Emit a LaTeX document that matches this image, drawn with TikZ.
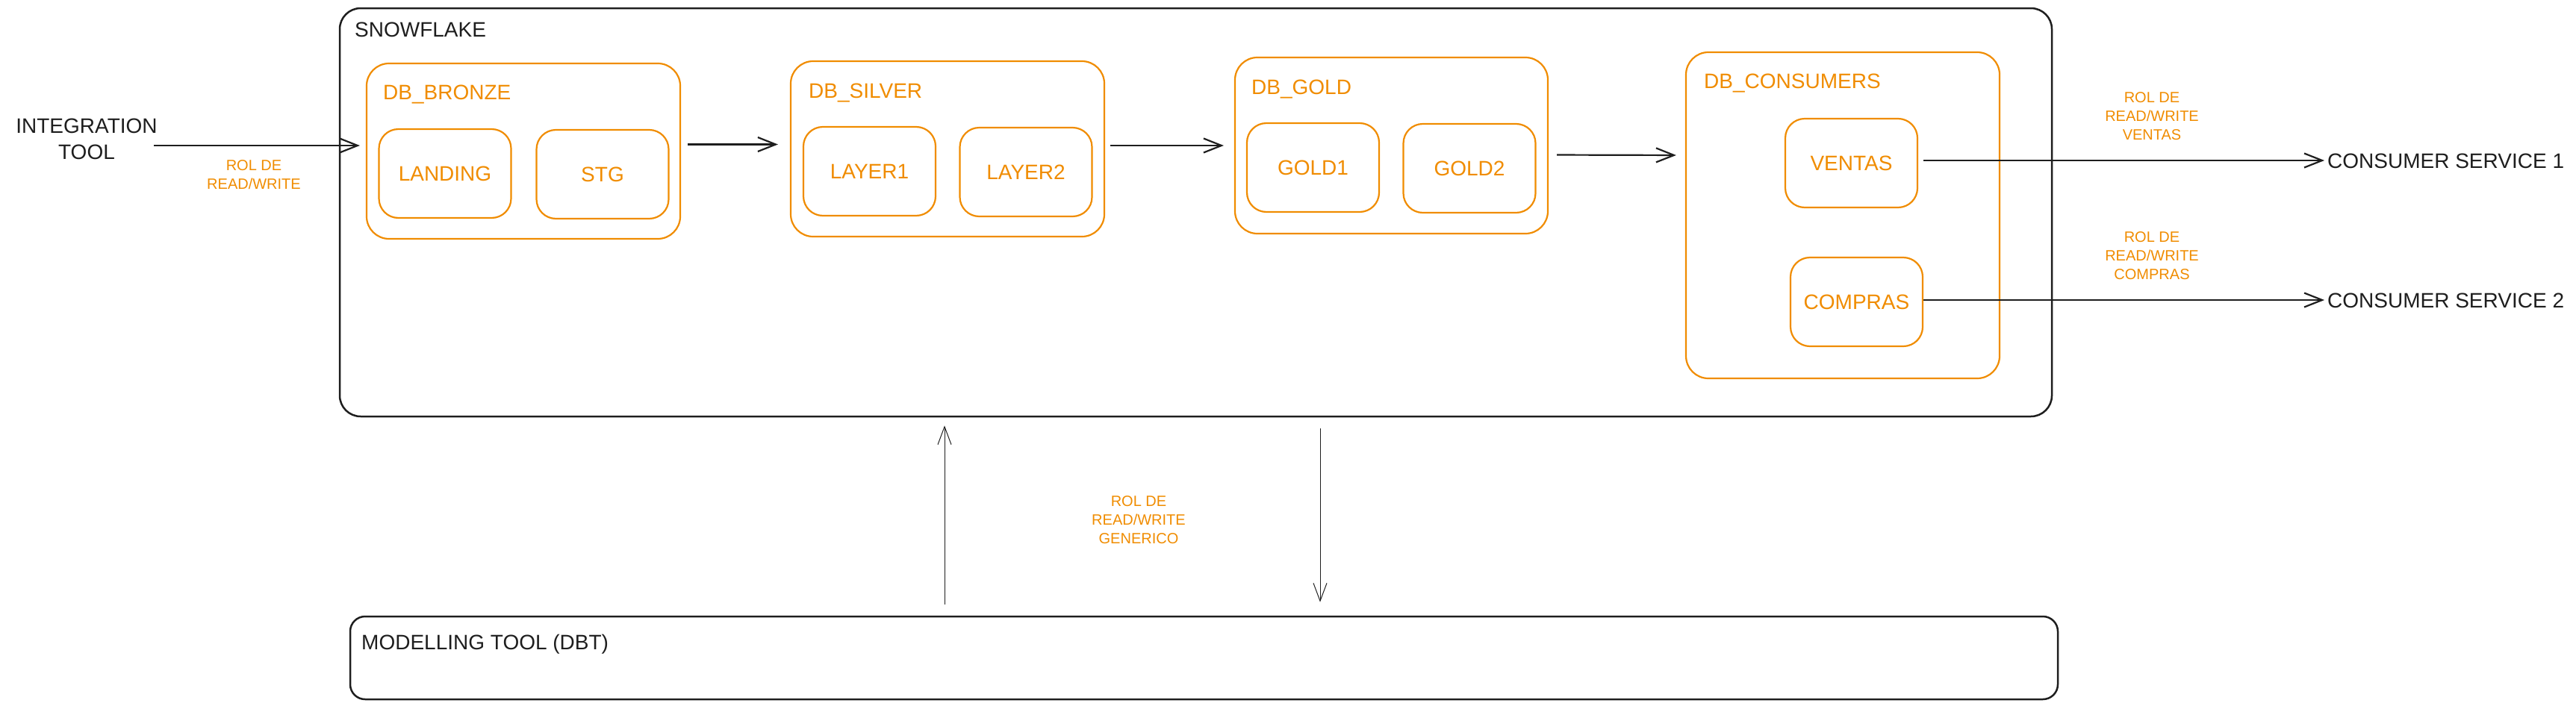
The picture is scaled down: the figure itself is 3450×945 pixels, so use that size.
\documentclass[tikz,border=0pt]{standalone}
\usepackage{fontspec}
\setmainfont{Liberation Sans}
\usetikzlibrary{arrows.meta}
\definecolor{ink}{HTML}{1E1E1E}
\definecolor{orng}{HTML}{F08C00}
\begin{document}
\begin{tikzpicture}[x=1pt,y=-1pt,
  outer/.style={draw=ink, line width=2.5pt, rounded corners=28pt, inner sep=0pt},
  dbbox/.style={draw=orng, line width=2.2pt, rounded corners=30pt, inner sep=0pt},
  tbl/.style={draw=orng, line width=2.2pt, rounded corners=26pt, inner sep=0pt,
     minimum width=177pt, minimum height=119pt, text=orng, font=\fontsize{28}{34}\selectfont},
  blk/.style={text=ink, inner sep=0pt, font=\fontsize{28}{35}\selectfont},
  otitle/.style={text=orng, inner sep=0pt, anchor=base west, font=\fontsize{28}{34}\selectfont},
  small/.style={text=orng, inner sep=0pt, align=center, font=\fontsize{20}{25}\selectfont},
  arr/.style={draw=ink, line width=2.2pt, -{Straight Barb[length=24pt,width=19pt]}},
  thinarr/.style={draw=ink, line width=1pt, -{Straight Barb[length=24pt,width=18pt]}}]
\useasboundingbox (0,0) rectangle (3450,945);

% outer containers
\node[outer, minimum width=2293pt, minimum height=547pt] (snow) at (1601.5,284.5) {};
\node[blk, anchor=base west] (snowT) at (475,49) {SNOWFLAKE};
\node[outer, rounded corners=20pt, minimum width=2287pt, minimum height=111pt] (model) at (1612.5,881.5) {};
\node[blk, anchor=base west] (modelT) at (484,870) {MODELLING TOOL (DBT)};

% databases
\node[dbbox, minimum width=420pt, minimum height=235pt] (bronze) at (701,202.5) {};
\node[otitle] (bronzeT) at (513,133) {DB\_BRONZE};
\node[tbl] (landing) at (596,232.5) {LANDING};
\node[tbl] (stg) at (807,233.5) {STG};

\node[dbbox, minimum width=420pt, minimum height=235pt] (silver) at (1269,199.5) {};
\node[otitle] (silverT) at (1083,131) {DB\_SILVER};
\node[tbl] (layer1) at (1164.5,229.5) {LAYER1};
\node[tbl] (layer2) at (1374,230.5) {LAYER2};

\node[dbbox, minimum width=419pt, minimum height=236pt] (gold) at (1863.5,195) {};
\node[otitle] (goldT) at (1676,126) {DB\_GOLD};
\node[tbl] (gold1) at (1758.5,224.5) {GOLD1};
\node[tbl] (gold2) at (1968,225.5) {GOLD2};

\node[dbbox, minimum width=420pt, minimum height=437pt] (cons) at (2468,288.5) {};
\node[otitle] (consT) at (2282,118) {DB\_CONSUMERS};
\node[tbl] (ventas) at (2479.5,218.5) {VENTAS};
\node[tbl] (compras) at (2486.5,404.5) {COMPRAS};

% external
\node[blk, align=center] (intg) at (116,186) {INTEGRATION\\TOOL};
\node[blk, anchor=west] (cs1) at (3117,216) {CONSUMER SERVICE 1};
\node[blk, anchor=west] (cs2) at (3117,403) {CONSUMER SERVICE 2};

% labels
\node[small] (lblI) at (340,234) {ROL DE\\READ/WRITE};
\node[small] (lblV) at (2882,156) {ROL DE\\READ/WRITE\\VENTAS};
\node[small] (lblC) at (2882,343) {ROL DE\\READ/WRITE\\COMPRAS};
\node[small] (lblG) at (1525,697) {ROL DE\\READ/WRITE\\GENERICO};

% connectors
\draw[arr, shorten <=-5pt, shorten >=8pt] ([yshift=-9pt]intg.east) -- ([yshift=-9pt]intg.east -| bronze.west);
\draw[arr, shorten <=9pt, shorten >=16pt] ([yshift=9pt]bronze.east) -- ([yshift=9pt]bronze.east -| silver.west);
\draw[arr, shorten <=7pt, shorten >=14pt] ([yshift=4.5pt]silver.east) -- ([yshift=4.5pt]silver.east -| gold.west);
\draw[arr, shorten <=11pt, shorten >=12pt] ([yshift=-12.5pt]gold.east) -- ([yshift=-13pt]gold.east -| cons.west);
\draw[arr, shorten <=7pt, shorten >=4pt] ([yshift=3.5pt]ventas.east) -- ([yshift=3.5pt]ventas.east -| cs1.west);
\draw[arr, shorten >=4pt] ([yshift=2.5pt]compras.east) -- ([yshift=2.5pt]compras.east -| cs2.west);
\draw[thinarr, shorten <=15pt, shorten >=11pt] ([xshift=-347.5pt]model.north) -- ([xshift=-347.5pt]model.north |- snow.south);
\draw[thinarr, shorten <=15pt, shorten >=18pt] ([xshift=155.5pt]model.north |- snow.south) -- ([xshift=155.5pt]model.north);
\end{tikzpicture}
\end{document}
